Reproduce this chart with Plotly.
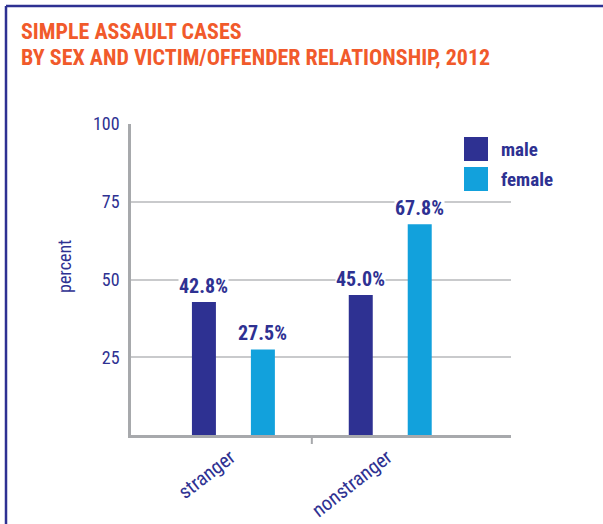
import plotly.graph_objects as go

# ---- data ----
categories = ["stranger", "nonstranger"]
series_names = ["male", "female"]
male_values = [42.8, 45.0]
female_values = [27.5, 67.8]
y_ticks = [25, 50, 75, 100]
title_lines = ["SIMPLE ASSAULT CASES", "BY SEX AND VICTIM/OFFENDER RELATIONSHIP, 2012"]
y_title = "percent"

# ---- style ----
W, H = 603, 524
ML, MR, MT, MB = 131, 92, 124, 89
PW, PH = W - ML - MR, H - MT - MB
NAVY = "#2e3192"
CYAN = "#12a1dc"
ORANGE = "#f15a2b"
GRID = "#c9cacc"
AXIS = "#a7a9ac"
FONT = "Roboto Condensed, Liberation Sans Narrow, DejaVu Sans Condensed, sans-serif"

BAR_W = 0.153
OFFS = 0.188
colors = [NAVY, CYAN]
series = [male_values, female_values]
signs = [-1, 1]

fig = go.Figure()
for name, vals, col, s in zip(series_names, series, colors, signs):
    fig.add_trace(go.Bar(
        x=categories, y=vals, name=name, marker=dict(color=col, line=dict(width=0)),
        width=BAR_W, offset=s * OFFS - BAR_W / 2, showlegend=False,
    ))
    for i, v in enumerate(vals):
        fig.add_annotation(
            x=i + s * OFFS, y=v, xref="x", yref="y", text=f"<b>{v:.1f}%</b>",
            showarrow=False, yanchor="bottom", yshift=3, bgcolor="white", borderpad=0,
            font=dict(family=FONT, size=20, color=NAVY),
        )

def px_x(p):
    return (p - ML) / PW

def px_y(p):
    return (H - MB - p) / PH

# title lines
for k, line in enumerate(title_lines):
    fig.add_annotation(xref="paper", yref="paper", x=px_x(19), y=px_y(31 + 27 * k),
                       xanchor="left", yanchor="middle", showarrow=False,
                       text=f"<b>{line}</b>", font=dict(family=FONT, size=22, color=ORANGE))

# legend (custom large squares)
for k, (name, col) in enumerate(zip(series_names, colors)):
    top = 137 + k * 30
    fig.add_shape(type="rect", xref="paper", yref="paper",
                  x0=px_x(464), x1=px_x(488), y0=px_y(top + 24), y1=px_y(top),
                  fillcolor=col, line=dict(width=0))
    fig.add_annotation(xref="paper", yref="paper", x=px_x(499), y=px_y(top + 12),
                       xanchor="left", yanchor="middle", showarrow=False,
                       text=f"<b>{name}</b>", font=dict(family=FONT, size=19, color=NAVY))

# separator tick between categories
fig.add_shape(type="line", xref="x", yref="paper", x0=0.5, x1=0.5,
              y0=0, y1=-9 / PH, line=dict(color=AXIS, width=2))

# frame lines (top and left)
fig.add_shape(type="line", xref="paper", yref="paper", x0=px_x(6), x1=px_x(W + 5),
              y0=px_y(6), y1=px_y(6), line=dict(color=NAVY, width=2.5))
fig.add_shape(type="line", xref="paper", yref="paper", x0=px_x(6), x1=px_x(6),
              y0=px_y(6), y1=px_y(H + 5), line=dict(color=NAVY, width=2.5))

# y-axis title
fig.add_annotation(xref="paper", yref="paper", x=px_x(64), y=px_y(267), text=y_title,
                   textangle=-90, showarrow=False, xanchor="center", yanchor="middle",
                   font=dict(family=FONT, size=18, color=NAVY))

fig.update_layout(
    width=W, height=H,
    margin=dict(l=ML, r=MR, t=MT, b=MB, autoexpand=False),
    paper_bgcolor="white", plot_bgcolor="white",
    xaxis=dict(type="category", range=[-0.653, 1.77], showgrid=False,
               showline=True, linecolor=AXIS, linewidth=2.5, ticks="",
               tickangle=-38, ticklabelshift=-3,
               tickfont=dict(family=FONT, size=20, color=NAVY),
               fixedrange=True),
    yaxis=dict(range=[0, 100], tickvals=y_ticks, showgrid=True, gridcolor=GRID,
               gridwidth=1.5, showline=True, linecolor=AXIS, linewidth=2.5,
               zeroline=False, ticks="", ticklabelstandoff=5,
               tickfont=dict(family=FONT, size=18, color=NAVY)),
)

fig.write_html("out.html", config={"displayModeBar": False},
               post_script="document.body.style.margin='0';document.body.style.overflow='hidden';")
